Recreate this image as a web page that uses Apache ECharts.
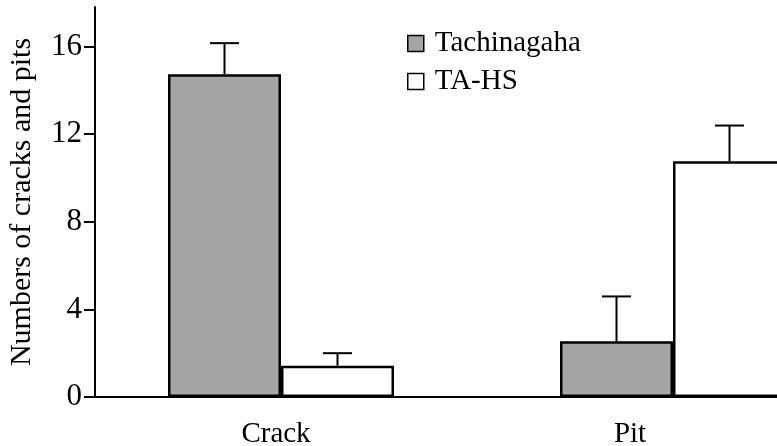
<!DOCTYPE html>
<html>
<head>
<meta charset="utf-8">
<script src="https://cdn.jsdelivr.net/npm/echarts@6/dist/echarts.min.js"></script>
<style>
  html, body { margin: 0; padding: 0; background: #fff; }
  #chart { width: 777px; height: 446px; }
</style>
</head>
<body>
<div id="chart"></div>
<script>
  var categories = ["Crack", "Pit"];
  var tachMeans = [14.73, 2.54];
  var tachSD = [1.42, 2.05];
  var hsMeans = [1.43, 10.76];
  var hsSD = [0.57, 1.63];
  var yTicks = [0, 4, 8, 12, 16];

  var font = "Liberation Serif";
  var barW = 113;

  function errData(means, sd) {
    return means.map(function (m, i) { return [i, m, m + sd[i]]; });
  }

  function errSeries(name, means, sd, shift) {
    return {
      name: name,
      type: "custom",
      z: 5,
      data: errData(means, sd),
      renderItem: function (params, api) {
        var low = api.coord([api.value(0), api.value(1)]);
        var high = api.coord([api.value(0), api.value(2)]);
        var x = low[0] + shift;
        var style = { stroke: "#000", lineWidth: 2 };
        return {
          type: "group",
          children: [
            { type: "line", shape: { x1: x, y1: low[1], x2: x, y2: high[1] }, style: style },
            { type: "line", shape: { x1: x - 14.5, y1: high[1], x2: x + 14.5, y2: high[1] }, style: style }
          ]
        };
      }
    };
  }

  var myChart = echarts.init(document.getElementById("chart"));
  var option = {
    animation: false,
    backgroundColor: "#fff",
    textStyle: { fontFamily: font, color: "#000" },
    grid: { left: 85, top: 7, width: 784, bottom: 49, outerBoundsMode: "none", containLabel: false },
    legend: {
      data: ["Tachinagaha", "TA-HS"],
      orient: "vertical",
      left: 402,
      top: 24,
      icon: "rect",
      itemWidth: 16,
      itemHeight: 16,
      itemGap: 9,
      itemStyle: { borderColor: "#000", borderWidth: 1.5 },
      textStyle: { fontFamily: font, fontSize: 29, color: "#000", lineHeight: 28, padding: [0, 0, 0, 6] }
    },
    xAxis: {
      type: "category",
      data: categories,
      axisLine: { lineStyle: { color: "#000", width: 2 } },
      axisTick: { show: false },
      axisLabel: {
        fontFamily: font,
        fontSize: 29,
        color: "#000",
        margin: 23,
        formatter: function (v) { return v === "Pit" ? "{p|" + v + "}" : "{c|" + v + "}"; },
        rich: {
          c: { fontFamily: font, fontSize: 29, color: "#000", padding: [0, 10, 0, 0] },
          p: { fontFamily: font, fontSize: 29, color: "#000", padding: [0, 86, 0, 0] }
        }
      }
    },
    yAxis: {
      type: "value",
      min: 0,
      max: 17.8,
      interval: 4,
      offset: -10,
      name: "Numbers of cracks and pits",
      nameLocation: "middle",
      nameGap: 58,
      nameTextStyle: { fontFamily: font, fontSize: 30, color: "#000" },
      splitLine: { show: false },
      axisLine: { show: true, lineStyle: { color: "#000", width: 2 } },
      axisTick: { show: true, length: 11, customValues: yTicks, lineStyle: { color: "#000", width: 2 } },
      axisLabel: { fontFamily: font, fontSize: 31, color: "#000", margin: 13, customValues: yTicks }
    },
    series: [
      {
        name: "Tachinagaha",
        type: "bar",
        barWidth: barW,
        barGap: 0,
        data: tachMeans,
        itemStyle: { color: "#a5a5a5", borderColor: "#000", borderWidth: 2.5 }
      },
      {
        name: "TA-HS",
        type: "bar",
        barWidth: barW,
        barGap: 0,
        data: hsMeans,
        itemStyle: { color: "#fff", borderColor: "#000", borderWidth: 2.5 }
      },
      errSeries("err1", tachMeans, tachSD, -barW / 2),
      errSeries("err2", hsMeans, hsSD, barW / 2)
    ]
  };
  myChart.setOption(option);
</script>
</body>
</html>
